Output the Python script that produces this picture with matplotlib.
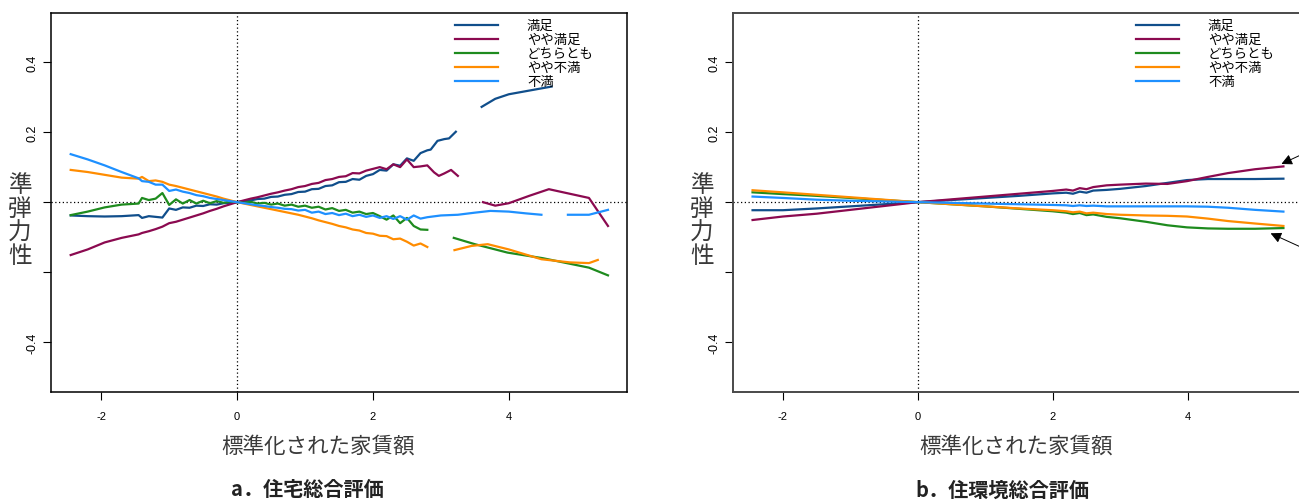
import numpy as np
import matplotlib
matplotlib.use("Agg")
import matplotlib.pyplot as plt

plt.rcParams['font.family'] = ['Noto Sans CJK JP', 'DejaVu Sans']

nan = np.nan

### series names and colours
LABELS = ['満足', 'やや満足', 'どちらとも', 'やや不満', '不満']
COLORS = ['#104E8B', '#8B0A50', '#1E8B1E', '#FF8C00', '#1E90FF']

### panel a : shared grid, then per-series tails (nan = gap)
XA = [-2.45, -2.2, -1.95, -1.7, -1.45,
      -1.4, -1.3, -1.2, -1.1, -1.0, -0.9, -0.8, -0.7, -0.6, -0.5, -0.4, -0.3, -0.2, -0.1, 0.0,
      0.1, 0.2, 0.3, 0.4, 0.5, 0.6, 0.7, 0.8, 0.9, 1.0, 1.1, 1.2, 1.3, 1.4, 1.5, 1.6, 1.7,
      1.8, 1.9, 2.0, 2.1, 2.2, 2.3, 2.4, 2.5, 2.6, 2.7, 2.8]

a_manzoku = [-0.038, -0.040, -0.041, -0.040, -0.037,
             -0.045, -0.040, -0.042, -0.044, -0.018, -0.022, -0.015, -0.016, -0.010, -0.011,
             -0.006, -0.007, -0.003, -0.002, 0.0,
             0.003, 0.005, 0.009, 0.010, 0.015, 0.016, 0.021, 0.023, 0.029, 0.030, 0.037, 0.038,
             0.046, 0.048, 0.057, 0.058, 0.066, 0.064, 0.075, 0.080, 0.092, 0.090, 0.108, 0.104,
             0.125, 0.118, 0.140, 0.148]
a_manzoku_tail_x = [2.85, 2.95, 3.05, 3.12, 3.22, nan, 3.6, 3.8, 4.0, 4.2, 4.4, 4.63]
a_manzoku_tail_y = [0.150, 0.175, 0.180, 0.182, 0.201, nan, 0.272, 0.295, 0.308, 0.315, 0.322, 0.330]

a_yaya_manzoku = [-0.151, -0.135, -0.115, -0.102, -0.092,
                  -0.088, -0.083, -0.077, -0.070, -0.060, -0.056, -0.050, -0.044, -0.038, -0.032,
                  -0.025, -0.019, -0.012, -0.006, 0.0,
                  0.005, 0.010, 0.014, 0.019, 0.024, 0.028, 0.033, 0.037, 0.043, 0.046, 0.052,
                  0.055, 0.063, 0.066, 0.072, 0.074, 0.083, 0.082, 0.090, 0.095, 0.100, 0.094,
                  0.108, 0.100, 0.122, 0.100, 0.102, 0.105]
a_yaya_manzoku_tail_x = [2.9, 2.97, 3.05, 3.15, 3.25, nan, 3.62, 3.8, 4.0, 4.3, 4.59, 5.18, 5.46]
a_yaya_manzoku_tail_y = [0.085, 0.075, 0.082, 0.092, 0.075, nan, 0.0, -0.010, -0.003, 0.018, 0.037, 0.012, -0.068]

a_dochira = [-0.037, -0.027, -0.015, -0.007, -0.004,
             0.012, 0.006, 0.010, 0.026, -0.008, 0.008, -0.004, 0.006, -0.004, 0.004,
             -0.003, 0.003, -0.002, 0.002, 0.0,
             -0.002, 0.001, -0.004, -0.002, -0.007, -0.004, -0.010, -0.007, -0.013, -0.010,
             -0.016, -0.013, -0.021, -0.017, -0.025, -0.022, -0.030, -0.027, -0.034, -0.031,
             -0.040, -0.050, -0.038, -0.060, -0.045, -0.068, -0.078, -0.079]
a_dochira_tail_x = [nan, 3.19, 3.5, 3.98, 4.5, 5.18, 5.46]
a_dochira_tail_y = [nan, -0.102, -0.120, -0.144, -0.160, -0.187, -0.209]

a_yaya_fuman = [0.092, 0.086, 0.078, 0.070, 0.067,
                0.072, 0.060, 0.062, 0.058, 0.050, 0.046, 0.041, 0.036, 0.031, 0.026,
                0.021, 0.016, 0.010, 0.005, 0.0,
                -0.004, -0.008, -0.012, -0.016, -0.020, -0.024, -0.028, -0.032, -0.036, -0.041,
                -0.046, -0.052, -0.057, -0.062, -0.068, -0.072, -0.078, -0.081, -0.088, -0.090,
                -0.096, -0.097, -0.106, -0.104, -0.113, -0.124, -0.118, -0.128]
a_yaya_fuman_tail_x = [nan, 3.2, 3.45, 3.69, 4.0, 4.48, 4.9, 5.18, 5.31]
a_yaya_fuman_tail_y = [nan, -0.137, -0.125, -0.120, -0.135, -0.163, -0.172, -0.174, -0.165]

a_fuman = [0.137, 0.122, 0.105, 0.086, 0.068,
           0.060, 0.058, 0.050, 0.050, 0.032, 0.036, 0.030, 0.026, 0.020, 0.017,
           0.012, 0.009, 0.006, 0.003, 0.0,
           -0.003, -0.006, -0.009, -0.011, -0.014, -0.016, -0.019, -0.020, -0.024, -0.022,
           -0.030, -0.027, -0.034, -0.031, -0.037, -0.033, -0.040, -0.036, -0.042, -0.038,
           -0.045, -0.040, -0.048, -0.040, -0.050, -0.038, -0.047, -0.043]
a_fuman_tail_x = [3.0, 3.25, 3.5, 3.73, 4.0, 4.25, 4.48, nan, 4.87, 5.18, 5.46]
a_fuman_tail_y = [-0.038, -0.036, -0.030, -0.025, -0.027, -0.032, -0.036, nan, -0.036, -0.036, -0.022]

### panel b
XB = [-2.45, -2.0, -1.5, -1.0, -0.5, 0.0, 0.5, 1.0, 1.5, 2.0, 2.2, 2.3, 2.4, 2.5, 2.6,
      2.8, 3.0, 3.38, 3.7, 3.99, 4.3, 4.6, 5.0, 5.42]
b_manzoku = [-0.023, -0.023, -0.018, -0.012, -0.006, 0.0, 0.006, 0.012, 0.018, 0.025, 0.027,
             0.024, 0.030, 0.027, 0.033, 0.035, 0.038, 0.046, 0.055, 0.063, 0.066, 0.066,
             0.066, 0.067]
b_yaya_manzoku = [-0.051, -0.041, -0.033, -0.022, -0.011, 0.0, 0.008, 0.016, 0.024, 0.032,
                  0.036, 0.033, 0.040, 0.037, 0.043, 0.048, 0.050, 0.053, 0.052, 0.060, 0.072,
                  0.083, 0.094, 0.102]
b_dochira = [0.028, 0.023, 0.018, 0.012, 0.006, 0.0, -0.006, -0.012, -0.019, -0.026, -0.030,
             -0.034, -0.031, -0.037, -0.035, -0.042, -0.046, -0.056, -0.066, -0.072, -0.075,
             -0.076, -0.076, -0.074]
b_yaya_fuman = [0.034, 0.028, 0.021, 0.014, 0.007, 0.0, -0.006, -0.012, -0.018, -0.023,
                -0.026, -0.029, -0.027, -0.032, -0.030, -0.034, -0.036, -0.038, -0.039, -0.041,
                -0.047, -0.054, -0.061, -0.068]
b_fuman = [0.016, 0.012, 0.007, 0.004, 0.002, 0.0, -0.002, -0.004, -0.006, -0.008, -0.009,
           -0.011, -0.009, -0.011, -0.010, -0.012, -0.012, -0.012, -0.012, -0.012, -0.013,
           -0.016, -0.022, -0.027]

# arrow tips (on the lines) and tails (off to the right) in panel b
b_arrow_tips = [(5.39, 0.109), (5.23, -0.089)]
b_arrow_tails = [(5.96, 0.16), (5.96, -0.153)]

XTICKS = [-2, 0, 2, 4]
YTICKS = [-0.4, -0.2, 0.0, 0.2, 0.4]
YTICKLABELS = ['-0.4', '', '', '0.2', '0.4']
XLABEL = '標準化された家賃額'
YLABEL = '準\n弾\n力\n性'
TITLES = ['a．住宅総合評価', 'b．住環境総合評価']

TEXT_GRAY = '#3a3a3a'


def setup_axes(ax, spine_color, spine_lw):
    ax.set_xlim(-2.74, 5.74)
    ax.set_ylim(-0.542, 0.54)
    ax.set_xticks(XTICKS)
    ax.set_xticklabels([str(t) for t in XTICKS], family='Liberation Sans', fontsize=8)
    ax.set_yticks(YTICKS)
    ax.set_yticklabels(YTICKLABELS, family='Liberation Sans', fontsize=9,
                       rotation=90, va='center')
    ax.tick_params(axis='x', length=6, width=0.8, pad=8)
    ax.tick_params(axis='y', length=6, width=0.8, pad=3)
    for s in ax.spines.values():
        s.set_color(spine_color)
        s.set_linewidth(spine_lw)
    ax.axhline(0, color='k', ls=(0, (1, 2)), lw=0.9, zorder=1)
    ax.axvline(0, color='k', ls=(0, (1, 2)), lw=0.9, zorder=1)


def add_legend(ax, handles, xanchor):
    ax.legend(handles, LABELS, loc='upper left', bbox_to_anchor=(xanchor, 0.986),
              frameon=False, fontsize=9.6, handlelength=3.2, handletextpad=2.2,
              labelspacing=0.0, borderpad=0, borderaxespad=0)


fig = plt.figure(figsize=(12.99, 5.02), dpi=100)
ax_a = fig.add_axes([51 / 1299, 109 / 502, 576 / 1299, 379 / 502])
ax_b = fig.add_axes([733 / 1299, 109 / 502, 572 / 1299, 379 / 502])

### panel a
setup_axes(ax_a, 'black', 1.1)
a_series = [(a_manzoku, a_manzoku_tail_x, a_manzoku_tail_y),
            (a_yaya_manzoku, a_yaya_manzoku_tail_x, a_yaya_manzoku_tail_y),
            (a_dochira, a_dochira_tail_x, a_dochira_tail_y),
            (a_yaya_fuman, a_yaya_fuman_tail_x, a_yaya_fuman_tail_y),
            (a_fuman, a_fuman_tail_x, a_fuman_tail_y)]
handles_a = []
for (ys, tx, ty), c in zip(a_series, COLORS):
    h, = ax_a.plot(XA + tx, ys + ty, color=c, lw=1.6, zorder=3)
    handles_a.append(h)
add_legend(ax_a, handles_a, (455 - 51) / 576)

### panel b
setup_axes(ax_b, '#4a4a4a', 1.4)
handles_b = []
for ys, c in zip([b_manzoku, b_yaya_manzoku, b_dochira, b_yaya_fuman, b_fuman], COLORS):
    h, = ax_b.plot(XB, ys, color=c, lw=1.6, zorder=3)
    handles_b.append(h)
add_legend(ax_b, handles_b, (1136 - 733) / 572)
for tip, tail in zip(b_arrow_tips, b_arrow_tails):
    ax_b.annotate('', xy=tip, xytext=tail, annotation_clip=False,
                  arrowprops=dict(arrowstyle='-|>', color='black', lw=0.7,
                                  mutation_scale=16, shrinkA=0, shrinkB=0))

### axis titles and captions
for ax, x_ylab, x_xlab, x_title, title in [(ax_a, 20, 318, 307, TITLES[0]),
                                            (ax_b, 702, 1016, 1002, TITLES[1])]:
    fig.text(x_ylab / 1299, 1 - 221 / 502, YLABEL, ha='center', va='center',
             fontsize=17, color=TEXT_GRAY, linespacing=1.05)
    fig.text(x_xlab / 1299, 1 - 447 / 502, XLABEL, ha='center', va='center',
             fontsize=15.5, color=TEXT_GRAY)
    fig.text(x_title / 1299, 1 - 490 / 502, title, ha='center', va='center',
             fontsize=14.5, fontweight='bold', color='#222222')

fig.savefig('out.png', dpi=100)
